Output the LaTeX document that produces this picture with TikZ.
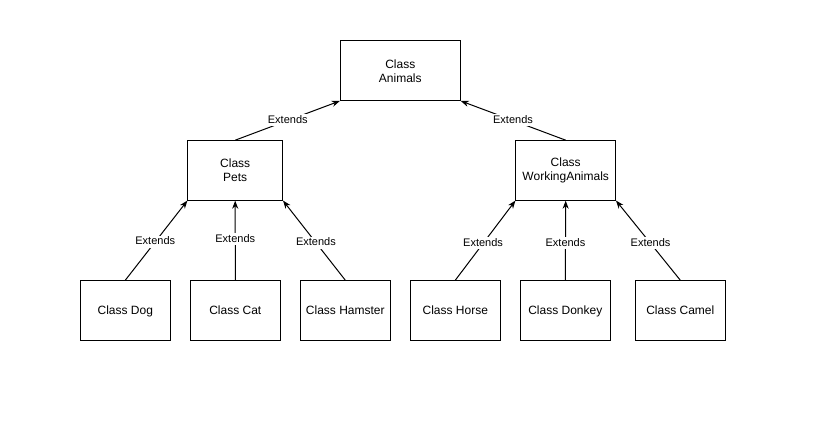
\documentclass[tikz,border=0pt]{standalone}
\usepackage{fontspec}
\setmainfont{Liberation Sans}
\usetikzlibrary{arrows.meta}
\begin{document}
\begin{tikzpicture}[x=1pt,y=-1pt,
  classbox/.style={draw=black, line width=1pt, fill=white, minimum height=60pt, outer sep=0pt, inner sep=0pt, align=center, font=\fontsize{12}{14}\selectfont},
  onebox/.style={classbox, minimum width=90pt, text height=10.5pt, text depth=1pt},
  ext/.style={draw=black, line width=1pt, -{Stealth[length=8pt,width=6pt,inset=2.5pt]}, shorten >=0.5pt},
  lbl/.style={fill=white, inner sep=1pt, font=\fontsize{11}{13}\selectfont, text height=8pt, text depth=2pt}
]
\useasboundingbox (0,0) rectangle (827,435);
\node[classbox, minimum width=120pt] (animals) at (400.3,70.8) {Class\\Animals};
\node[classbox, minimum width=95pt] (pets) at (235.2,170.2) {Class\\Pets};
\node[classbox, minimum width=100pt] (work) at (565.7,170.2) {Class\\WorkingAnimals};
\node[onebox] (dog) at (125.3,310.2) {Class Dog};
\node[onebox] (cat) at (235.3,310.2) {Class Cat};
\node[onebox] (hamster) at (345.3,310.2) {Class Hamster};
\node[onebox] (horse) at (455.3,310.2) {Class Horse};
\node[onebox] (donkey) at (565.3,310.2) {Class Donkey};
\node[onebox] (camel) at (680.3,310.2) {Class Camel};
\draw[ext] (pets.north) -- node[lbl, pos=0.5] {Extends} (animals.south west);
\draw[ext] (work.north) -- node[lbl, pos=0.5] {Extends} (animals.south east);
\draw[ext] (dog.north) -- node[lbl, pos=0.48] {Extends} (pets.south west);
\draw[ext] (cat.north) -- node[lbl, pos=0.51] {Extends} (pets.south);
\draw[ext] (hamster.north) -- node[lbl, pos=0.47] {Extends} (pets.south east);
\draw[ext] (horse.north) -- node[lbl, pos=0.46] {Extends} (work.south west);
\draw[ext] (donkey.north) -- node[lbl, pos=0.46] {Extends} (work.south);
\draw[ext] (camel.north) -- node[lbl, pos=0.46] {Extends} (work.south east);
\end{tikzpicture}
\end{document}
